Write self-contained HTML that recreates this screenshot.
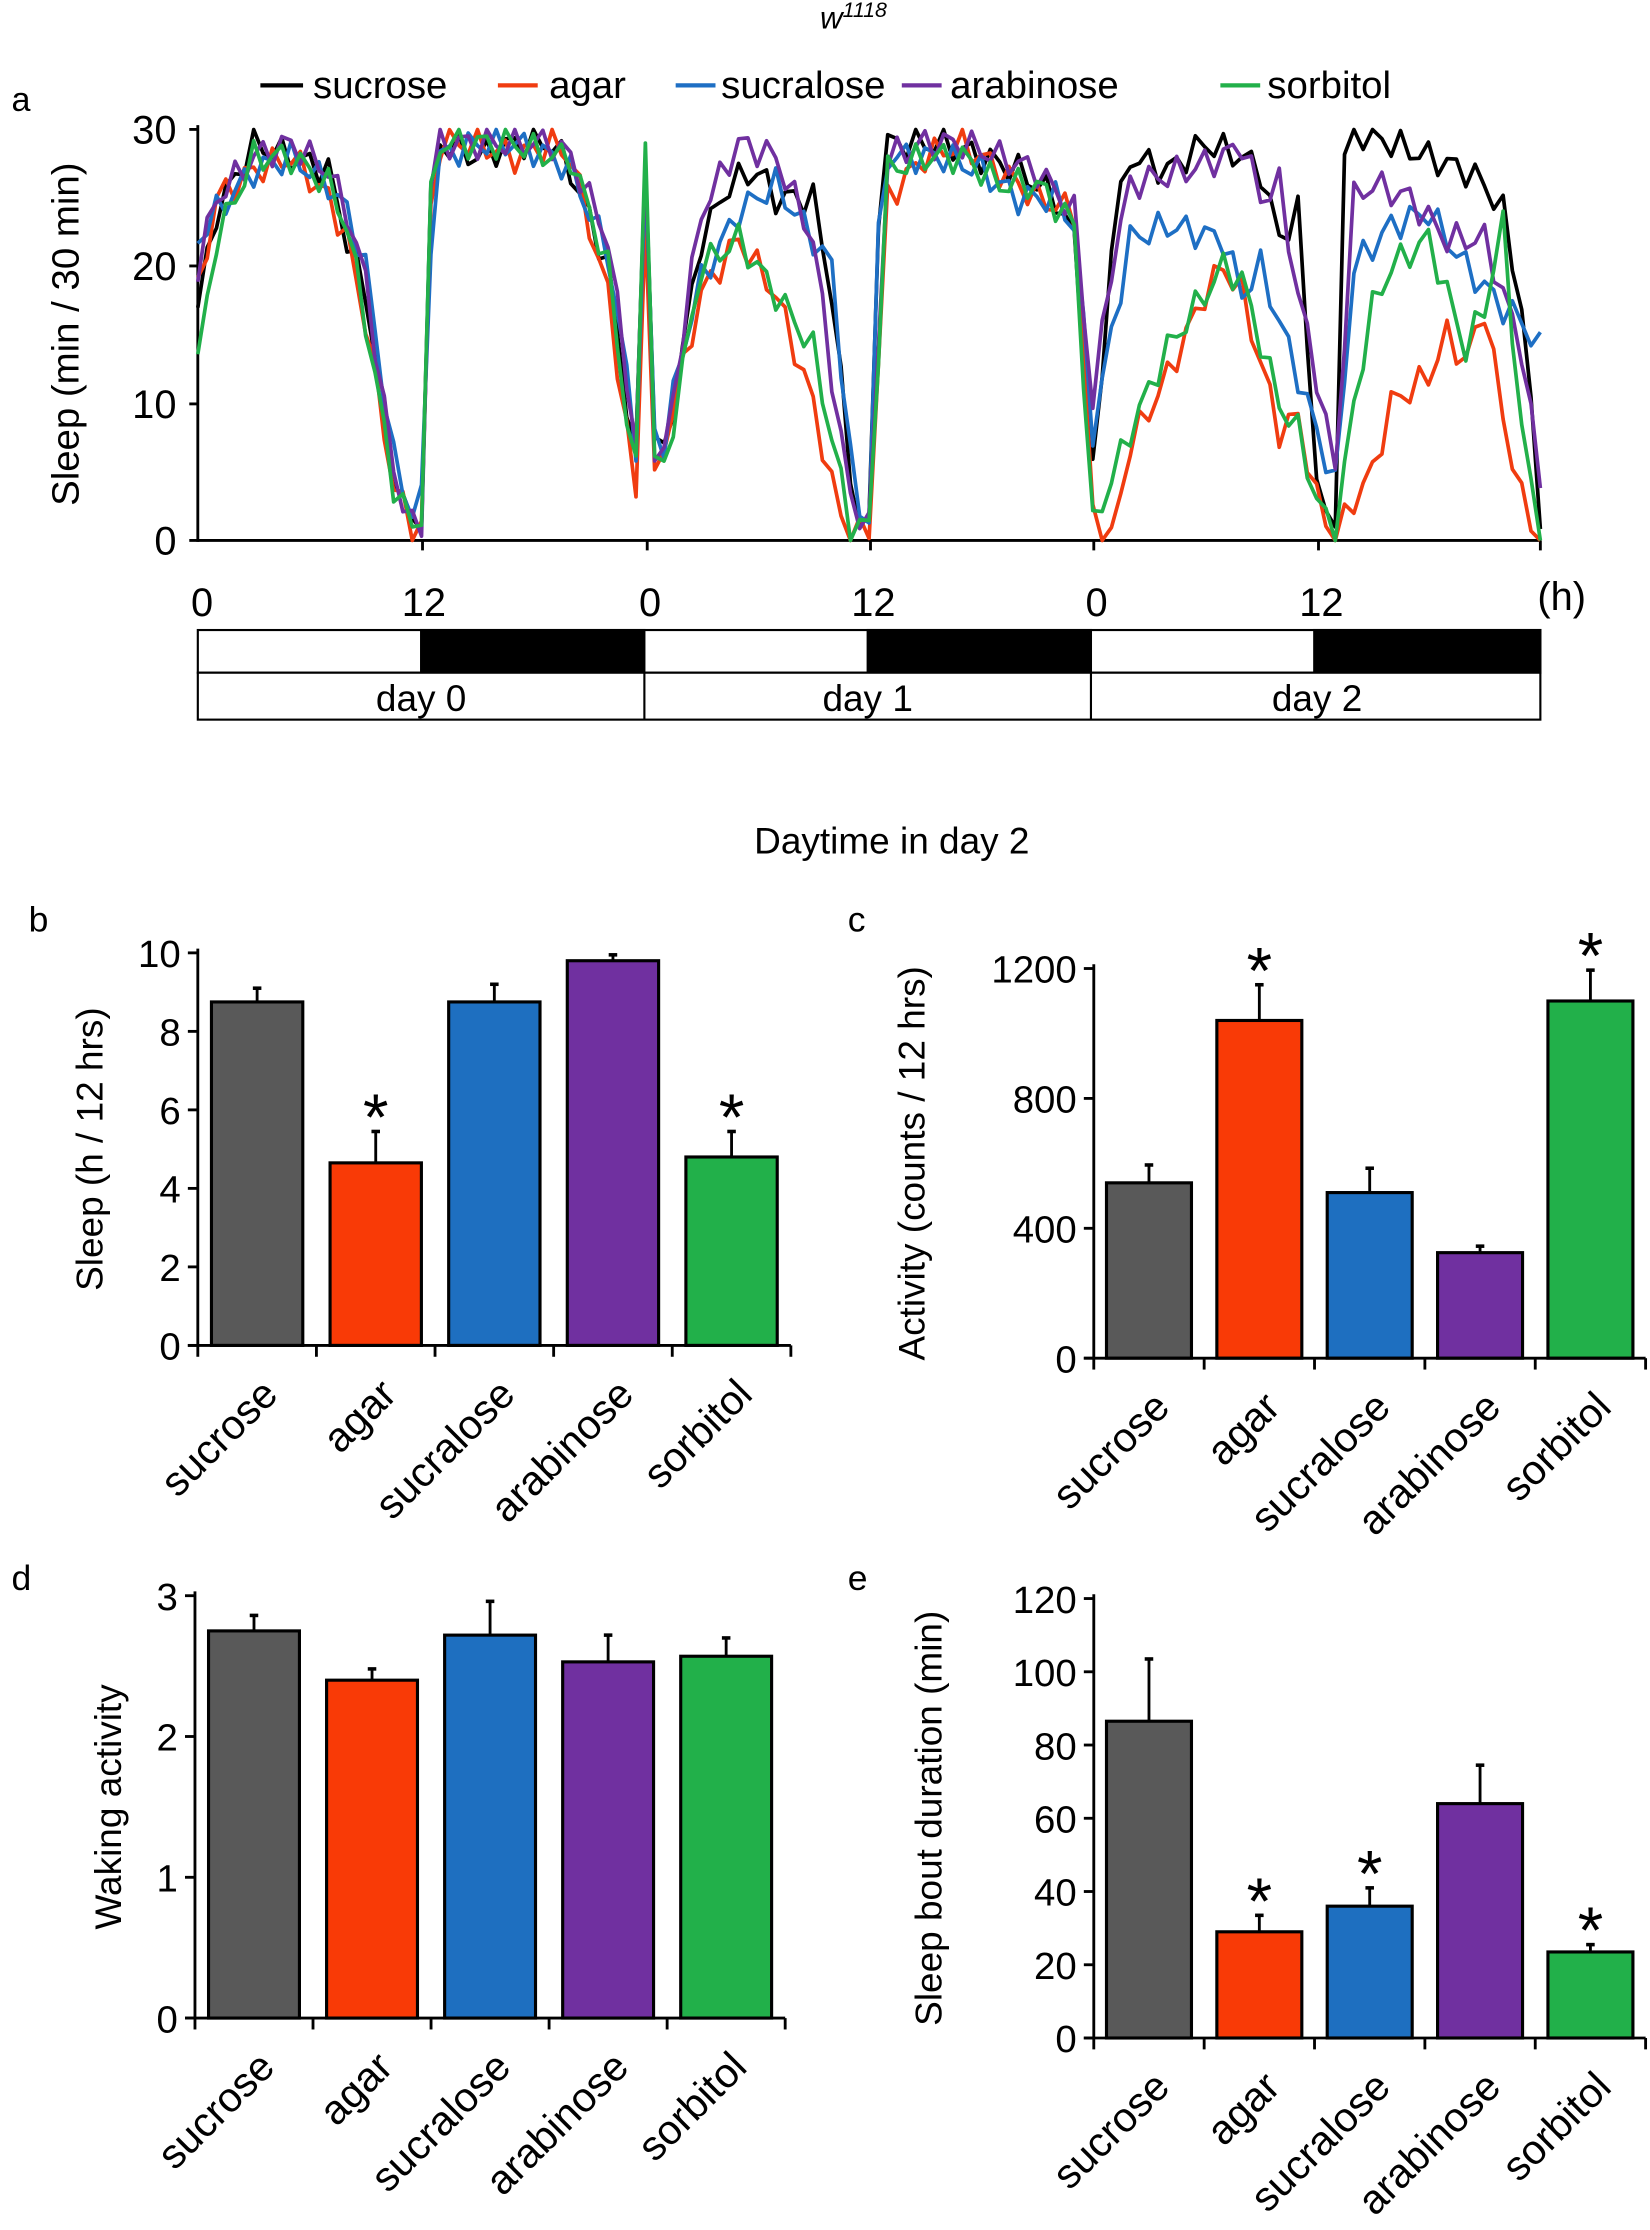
<!DOCTYPE html>
<html><head><meta charset="utf-8">
<style>
html,body{margin:0;padding:0;background:#fff;}
svg{display:block;}
text{font-family:"Liberation Sans","DejaVu Sans",sans-serif;fill:#000;}
</style></head>
<body>
<svg id="s" width="1650" height="2230" viewBox="0 0 1160 1568" xmlns="http://www.w3.org/2000/svg">
<rect width="1160" height="1568" fill="#fff"/>
<text x="600" y="20" font-size="22" font-style="italic" text-anchor="middle">w<tspan font-size="15" dy="-8">1118</tspan></text>
<text x="8" y="78" font-size="24">a</text>
<g font-size="27">
<line x1="183" y1="60" x2="213" y2="60" stroke="#000" stroke-width="3"/><text x="220" y="69">sucrose</text>
<line x1="350" y1="60" x2="378" y2="60" stroke="#f03c10" stroke-width="3"/><text x="386" y="69">agar</text>
<line x1="475" y1="60" x2="503" y2="60" stroke="#1e6fc4" stroke-width="3"/><text x="507" y="69">sucralose</text>
<line x1="634" y1="60" x2="662" y2="60" stroke="#7030a0" stroke-width="3"/><text x="668" y="69">arabinose</text>
<line x1="858" y1="60" x2="886" y2="60" stroke="#22b04a" stroke-width="3"/><text x="891" y="69">sorbitol</text>
</g>
<text transform="translate(55,235) rotate(-90)" font-size="27" text-anchor="middle">Sleep (min / 30 min)</text>
<g font-size="28" text-anchor="end">
<text x="124" y="101">30</text><text x="124" y="197">20</text><text x="124" y="294">10</text><text x="124" y="390">0</text>
</g>
<g stroke="#000" stroke-width="2">
<line x1="139" y1="88" x2="139" y2="381"/><line x1="139" y1="380" x2="1083" y2="380"/>
<line x1="133" y1="91" x2="139" y2="91"/><line x1="133" y1="187" x2="139" y2="187"/><line x1="133" y1="284" x2="139" y2="284"/><line x1="133" y1="380" x2="139" y2="380"/>
<line x1="297" y1="380" x2="297" y2="387"/><line x1="455" y1="380" x2="455" y2="387"/><line x1="612" y1="380" x2="612" y2="387"/><line x1="769" y1="380" x2="769" y2="387"/><line x1="927" y1="380" x2="927" y2="387"/><line x1="1083" y1="380" x2="1083" y2="387"/>
</g>
<g id="lines" fill="none" stroke-width="2.6" stroke-linejoin="round"></g>
<g font-size="28" text-anchor="middle">
<text x="142" y="433">0</text><text x="298" y="433">12</text><text x="457" y="433">0</text><text x="614" y="433">12</text><text x="771" y="433">0</text><text x="929" y="433">12</text><text x="1098" y="429">(h)</text>
</g>
<g stroke="#000" stroke-width="1.5">
<rect x="139" y="443" width="944" height="30" fill="#fff"/>
<rect x="296" y="443" width="157" height="30" fill="#000"/>
<rect x="610" y="443" width="157" height="30" fill="#000"/>
<rect x="924" y="443" width="159" height="30" fill="#000"/>
<rect x="139" y="473" width="944" height="33" fill="#fff"/>
<line x1="453" y1="473" x2="453" y2="506"/><line x1="767" y1="473" x2="767" y2="506"/>
</g>
<g font-size="26" text-anchor="middle"><text x="296" y="500">day 0</text><text x="610" y="500">day 1</text><text x="926" y="500">day 2</text></g>
<text x="627" y="600" font-size="26" text-anchor="middle">Daytime in day 2</text>
<g font-size="25"><text x="20" y="655">b</text><text x="596" y="655">c</text><text x="8" y="1118">d</text><text x="596" y="1118">e</text></g>
<g id="bars"></g>
</svg>
<script>
var NS="http://www.w3.org/2000/svg";
function el(p,t,a,txt){var e=document.createElementNS(NS,t);for(var k in a)e.setAttribute(k,a[k]);if(txt!==undefined)e.textContent=txt;p.appendChild(e);return e;}
var series=[
["#000",[[0,17],[1,24],[3,29],[5,28],[7,27],[8,22],[9,18],[10.5,5],[11.5,1],[12,2],[12.5,25],[13,29],[15,28],[17,29],[19,29],[20,27],[22,20],[23,10],[23.5,6],[24,28],[24.5,8],[25,6],[26,14],[27,22],[28.5,26],[30,27],[31,25],[33,25],[34,18],[35,5],[35.5,1],[36,1],[36.5,24],[37,29],[40,29],[42,28],[44,27],[46,25],[47,22],[48,5],[48.5,12],[49,22],[50,28],[52,27],[54,29],[56,28],[57,27],[58,22],[59,24],[60,5],[60.5,1],[61,2],[61.5,28],[62,30],[64,29],[66,28],[68,27],[69,26],[70,24],[71,17],[72,2]]],
["#f03c10",[[0,18],[1,25],[3,27],[5,28],[7,25],[8,22],[9,16],[10.5,4],[11.5,1],[12,1],[12.5,24],[13,29],[15,29],[17,28],[19,29],[20,28],[22,18],[23,8],[23.5,3],[24,24],[24.5,4],[25,7],[27,18],[29,22],[31,18],[33,10],[34,4],[35,0],[36,1],[37,25],[39,28],[41,29],[43,27],[45,25],[47,24],[48,2],[49,0],[50,7],[52,12],[54,18],[55,20],[56,18],[57,13],[58,8],[59,9],[60,3],[61,0],[62,3],[63,5],[64,10],[66,12],[67,15],[68,13],[69,17],[70,9],[71,3],[72,0]]],
["#1e6fc4",[[0,22],[1,24],[3,27],[5,28],[7,26],[8,24],[9,20],[10.5,6],[11.5,2],[12,3],[12.5,22],[13,28],[15,29],[17,29],[19,28],[20,27],[22,21],[23,12],[23.5,7],[24,26],[24.5,8],[25,7],[26,14],[27,19],[29,24],[31,26],[33,22],[34,20],[35,6],[35.5,2],[36,2],[36.5,22],[37,28],[40,28],[42,27],[44,25],[46,25],[47,23],[48,8],[49,15],[50,22],[52,23],[55,22],[56,18],[57,20],[58,16],[59,12],[60,8],[61,4],[62,20],[64,23],[66,24],[68,20],[70,17],[71,16],[72,14]]],
["#7030a0",[[0,20],[1,25],[3,28],[5,29],[7,27],[8,24],[9,19],[10.5,5],[11.5,1],[12,1],[12.5,26],[13,29],[15,29],[17,29],[19,29],[20,28],[22,22],[23,12],[23.5,7],[24,27],[24.5,7],[25,6],[26,15],[27,24],[29,29],[31,28],[33,22],[34,12],[35,3],[36,1],[37,28],[39,29],[41,29],[43,28],[45,27],[47,24],[48,10],[49,20],[50,26],[53,27],[55,28],[56,29],[57,25],[58,26],[59,18],[60,12],[61,5],[62,25],[63,26],[65,25],[67,22],[69,22],[71,14],[72,4]]],
["#22b04a",[[0,13],[1,22],[3,28],[5,28],[7,26],[8,23],[9,16],[10.5,4],[11.5,1],[12,2],[12.5,25],[13,29],[15,29],[17,29],[19,28],[20,28],[22,20],[23,9],[23.5,5],[24,30],[24.5,6],[25,5],[27,20],[29,22],[31,18],[33,14],[35,1],[36,1],[37,27],[39,28],[41,28],[43,26],[45,26],[47,23],[48,1],[50,8],[52,14],[54,18],[55,20],[56,19],[58,10],[59,8],[60,3],[61,0],[62,10],[63,17],[64,20],[66,22],[68,14],[69,17],[70,23],[71,8],[72,0]]]
];
var lg=document.getElementById("lines");
series.forEach(function(s,si){
 var kf=s[1],pts=[];
 for(var i=0;i<=144;i++){var h=i/2,v=kf[kf.length-1][1];
  for(var j=0;j<kf.length-1;j++){if(h>=kf[j][0]&&h<=kf[j+1][0]){var f=(h-kf[j][0])/(kf[j+1][0]-kf[j][0]||1);v=kf[j][1]+f*(kf[j+1][1]-kf[j][1]);break;}}
  v+=Math.sin(i*2.3+si*1.7)*1.2;v=Math.max(0,Math.min(30,v));
  pts.push((139+h*944/72).toFixed(1)+","+(380-v*9.63).toFixed(1));}
 el(lg,"polyline",{points:pts.join(" "),stroke:s[0]});
});
var cols=["#595959","#f93a06","#1e6fc0","#7030a0","#22b04a"],names=["sucrose","agar","sucralose","arabinose","sorbitol"];
var B=document.getElementById("bars");
function chart(o){
 var sp=(o.x1-o.x0)/5,sc=(o.y0-o.yt)/o.max;
 o.ticks.forEach(function(t){var y=o.y0-t*sc;el(B,"line",{x1:o.x0-7,y1:y,x2:o.x0,y2:y,stroke:"#000","stroke-width":2});el(B,"text",{x:o.x0-12,y:y+10,"font-size":27,"text-anchor":"end"},t);});
 el(B,"text",{transform:"translate("+o.lx+","+((o.y0+o.yt)/2)+") rotate(-90)","font-size":26,"text-anchor":"middle"},o.label);
 for(var i=0;i<5;i++){var bx=o.x0+i*sp+sp*0.115,bw=sp*0.77,cx=bx+bw/2,v=o.v[i],e=o.e[i];
  el(B,"line",{x1:cx,y1:o.y0-v*sc,x2:cx,y2:o.y0-e*sc,stroke:"#000","stroke-width":2});
  el(B,"line",{x1:cx-3,y1:o.y0-e*sc,x2:cx+3,y2:o.y0-e*sc,stroke:"#000","stroke-width":2.5});
  el(B,"rect",{x:bx,y:o.y0-v*sc,width:bw,height:v*sc,fill:cols[i],stroke:"#000","stroke-width":2.2});
  if(o.st[i])el(B,"text",{x:cx,y:o.y0-e*sc+6,"font-size":46,"text-anchor":"middle"},"*");
  var tx=o.x0+i*sp+sp/2+16,ty=o.y0+36;
  el(B,"text",{transform:"translate("+tx+","+ty+") rotate(-45)","font-size":29,"text-anchor":"end"},names[i]);}
 el(B,"line",{x1:o.x0,y1:o.yt-3,x2:o.x0,y2:o.y0,stroke:"#000","stroke-width":2});
 el(B,"line",{x1:o.x0-7,y1:o.y0,x2:o.x1,y2:o.y0,stroke:"#000","stroke-width":2});
 for(var k=0;k<=5;k++)el(B,"line",{x1:o.x0+k*sp,y1:o.y0,x2:o.x0+k*sp,y2:o.y0+8,stroke:"#000","stroke-width":2});
}
chart({x0:139,x1:556,y0:946,yt:670,max:10,ticks:[0,2,4,6,8,10],lx:72,label:"Sleep (h / 12 hrs)",v:[8.75,4.65,8.75,9.8,4.8],e:[9.1,5.45,9.2,9.95,5.45],st:[0,1,0,0,1]});
chart({x0:769,x1:1157,y0:955,yt:681,max:1200,ticks:[0,400,800,1200],lx:650,label:"Activity (counts / 12 hrs)",v:[540,1040,510,325,1100],e:[595,1150,585,345,1195],st:[0,1,0,0,1]});
chart({x0:137,x1:552,y0:1419,yt:1122,max:3,ticks:[0,1,2,3],lx:85,label:"Waking activity",v:[2.75,2.4,2.72,2.53,2.57],e:[2.86,2.48,2.96,2.72,2.7],st:[0,0,0,0,0]});
chart({x0:769,x1:1157,y0:1433,yt:1124,max:120,ticks:[0,20,40,60,80,100,120],lx:662,label:"Sleep bout duration (min)",v:[86.5,29,36,64,23.5],e:[103.5,33.5,41,74.5,25.5],st:[0,1,1,0,1]});
</script>
</body></html>
